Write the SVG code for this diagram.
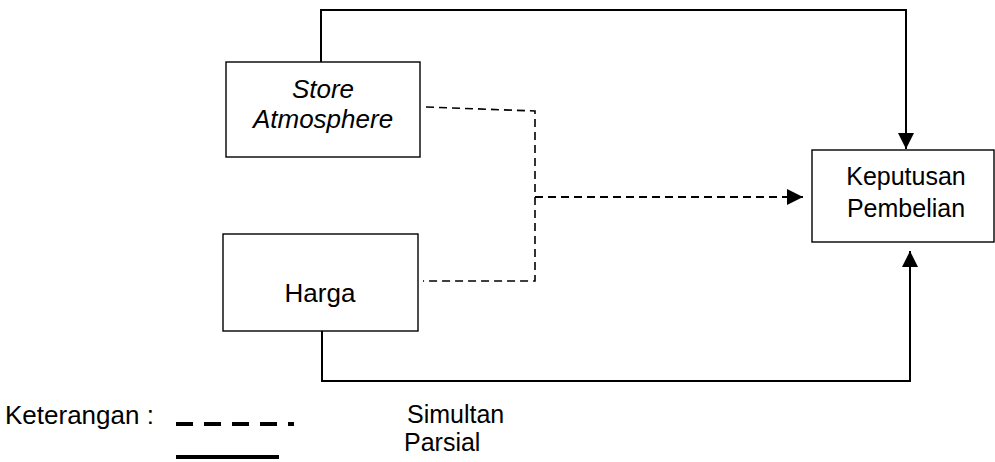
<svg xmlns="http://www.w3.org/2000/svg" width="995" height="462" viewBox="0 0 995 462">
<style>
.box{fill:#fff;stroke:#000;stroke-width:1.4}
.t{font-family:"Liberation Sans",Arial,sans-serif;font-size:26px;fill:#000}
.k{font-size:25px}
.solid{fill:none;stroke:#000;stroke-width:2}
.dash{fill:none;stroke:#000;stroke-width:1.6;stroke-dasharray:8 5}
.dashm{fill:none;stroke:#000;stroke-width:2;stroke-dasharray:8 5}
</style>
<defs>
<marker id="ah" markerUnits="userSpaceOnUse" markerWidth="16" markerHeight="16" refX="16" refY="8" orient="auto">
<path d="M0,0 L16,8 L0,16 Z" fill="#000"/>
</marker>
</defs>
<rect width="995" height="462" fill="#fff"/>
<g id="connectors">
<path class="solid" d="M321,62 V10 H906 V149" marker-end="url(#ah)"/>
<path class="solid" d="M322,331 V381 H910 V251" marker-end="url(#ah)"/>
<path class="dash" d="M426,107 L535,111 V281 H423"/>
<path class="dashm" d="M535,197 H803" marker-end="url(#ah)"/>
</g>
<g id="store-atmosphere">
<rect class="box" x="226" y="62" width="194" height="95"/>
<text class="t" x="323" y="98" text-anchor="middle" font-style="italic">Store</text>
<text class="t" x="323" y="128" text-anchor="middle" font-style="italic">Atmosphere</text>
</g>
<g id="harga">
<rect class="box" x="223" y="234" width="195" height="97"/>
<text class="t" x="320" y="302" text-anchor="middle">Harga</text>
</g>
<g id="keputusan-pembelian">
<rect class="box" x="812" y="150" width="182" height="92"/>
<text class="t k" x="906" y="185" text-anchor="middle">Keputusan</text>
<text class="t k" x="906" y="217" text-anchor="middle">Pembelian</text>
</g>
<g id="legend">
<text class="t" x="5" y="424">Keterangan :</text>
<line x1="176" y1="424" x2="294" y2="424" stroke="#000" stroke-width="4" stroke-dasharray="17 11"/>
<line x1="176" y1="457" x2="279" y2="457" stroke="#000" stroke-width="4"/>
<text class="t k" x="407" y="423">Simultan</text>
<text class="t k" x="404" y="451">Parsial</text>
</g>
</svg>
